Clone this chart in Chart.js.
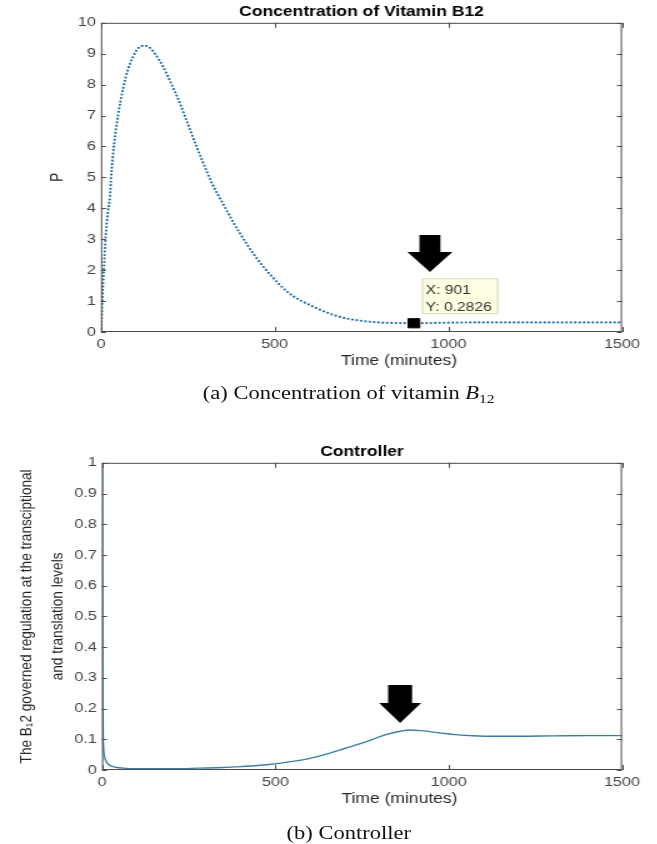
<!DOCTYPE html>
<html>
<head>
<meta charset="utf-8">
<script src="https://cdn.jsdelivr.net/npm/chart.js@4.4.1/dist/chart.umd.min.js"></script>
<style>
html, body { margin: 0; padding: 0; background: #fff; overflow: hidden; }
#page { position: absolute; left: 0; top: 0; width: 526px; height: 844px; transform: scaleX(1.25); transform-origin: 0 0; }
canvas { position: absolute; left: 0; }
#cvP { top: 0; }
#cvU { top: 440px; }
.caption { position: absolute; left: 0; width: 558px; text-align: center; font: 18px 'Liberation Serif', 'Times New Roman', serif; color: #111; line-height: 20px; }
.caption sub { font-size: 12.5px; vertical-align: -4px; line-height: 0; }
</style>
</head>
<body>
<div id="page">
  <canvas id="cvP" width="526" height="372"></canvas>
  <div class="caption" style="top:383px">(a) Concentration of vitamin <i>B</i><sub>12</sub></div>
  <canvas id="cvU" width="526" height="372"></canvas>
  <div class="caption" style="top:823px">(b) Controller</div>
</div>
<script>
// values
const timeP = [0, 2, 4, 8, 13, 20, 26, 29, 38, 49, 64, 78, 92, 105, 115, 125, 140, 155, 178, 201, 225, 251, 275, 293, 320, 351, 400, 446, 494, 541, 613, 684, 750, 800, 850, 901, 950, 1000, 1100, 1300, 1500];
const valueP = [0, 0.5, 1.1, 2.0, 3.0, 3.9, 4.4, 5.0, 6.1, 7.0, 7.9, 8.5, 8.9, 9.15, 9.24, 9.26, 9.2, 9.0, 8.6, 8.06, 7.46, 6.7, 6.0, 5.5, 4.8, 4.15, 3.19, 2.42, 1.77, 1.26, 0.81, 0.5, 0.36, 0.31, 0.29, 0.2826, 0.29, 0.30, 0.31, 0.31, 0.31];

const timeU = [0, 1, 2, 3, 5, 8, 12, 20, 35, 60, 100, 200, 282, 350, 400, 475, 550, 600, 657, 700, 752, 800, 821, 860, 888, 920, 974, 1020, 1060, 1100, 1200, 1300, 1400, 1500];
const valueU = [1, 0.55, 0.25, 0.12, 0.06, 0.04, 0.028, 0.017, 0.01, 0.006, 0.004, 0.004, 0.006, 0.008, 0.011, 0.017, 0.028, 0.038, 0.055, 0.07, 0.088, 0.108, 0.116, 0.126, 0.13, 0.128, 0.121, 0.115, 0.112, 0.11, 0.11, 0.111, 0.112, 0.112];

const dataTip = [901, 0.2826];
const arrowTipP = [947, 1.94];
const arrowTipU = [860, 0.153];

const xTicks = [0, 500, 1000, 1500];
const yTicksP = [0, 1, 2, 3, 4, 5, 6, 7, 8, 9, 10];
const yTicksU = [0, 0.1, 0.2, 0.3, 0.4, 0.5, 0.6, 0.7, 0.8, 0.9, 1];

const FONT = "'Liberation Sans', Arial, 'DejaVu Sans', sans-serif";
const TICK_COLOR = '#444';
const AXIS_COLOR = '#4a4a4a';

// frame box with inward ticks on all four sides
const matlabAxes = {
    id: 'matlabAxes',
    afterDraw(chart) {
        const {ctx, chartArea: a, scales} = chart;
        ctx.save();
        ctx.strokeStyle = AXIS_COLOR;
        ctx.lineWidth = 1;
        ctx.strokeRect(a.left + 0.5, a.top + 0.5, a.right - a.left - 1, a.bottom - a.top - 1);
        ctx.beginPath();
        scales.x.ticks.forEach(t => {
            const px = Math.round(scales.x.getPixelForValue(t.value)) + 0.5;
            ctx.moveTo(px, a.bottom); ctx.lineTo(px, a.bottom - 5);
            ctx.moveTo(px, a.top); ctx.lineTo(px, a.top + 5);
        });
        scales.y.ticks.forEach(t => {
            const py = Math.round(scales.y.getPixelForValue(t.value)) + 0.5;
            ctx.moveTo(a.left, py); ctx.lineTo(a.left + 4, py);
            ctx.moveTo(a.right, py); ctx.lineTo(a.right - 4, py);
        });
        ctx.stroke();

        // x label, sits a bit right of centre like the reference
        ctx.fillStyle = '#262626';
        ctx.font = '14px ' + FONT;
        ctx.textAlign = 'center';
        ctx.textBaseline = 'middle';
        ctx.fillText('Time (minutes)', (a.left + a.right) / 2 + 30, a.bottom + 29);
        ctx.restore();
    }
};

// big black arrow + MATLAB data tip
const marks = {
    id: 'marks',
    afterDatasetsDraw(chart, args, opts) {
        const {ctx, scales} = chart;
        ctx.save();
        if (opts.arrow) {
            const [ax, ay] = opts.arrow.tip;
            const tx = scales.x.getPixelForValue(ax);
            const ty = scales.y.getPixelForValue(ay);
            const {head, shaft, headH, shaftH} = opts.arrow;
            ctx.fillStyle = '#000';
            ctx.beginPath();
            ctx.moveTo(tx, ty);
            ctx.lineTo(tx - head, ty - headH);
            ctx.lineTo(tx - shaft, ty - headH);
            ctx.lineTo(tx - shaft, ty - headH - shaftH);
            ctx.lineTo(tx + shaft, ty - headH - shaftH);
            ctx.lineTo(tx + shaft, ty - headH);
            ctx.lineTo(tx + head, ty - headH);
            ctx.closePath();
            ctx.fill();
        }
        if (opts.tip) {
            const [vx, vy] = opts.tip;
            const px = scales.x.getPixelForValue(vx);
            const py = scales.y.getPixelForValue(vy);
            const left = px + 6.4, top = py - 45;
            ctx.fillStyle = '#ffffe3';
            ctx.strokeStyle = '#d6d6b8';
            ctx.lineWidth = 1;
            ctx.fillRect(left, top, 61, 36);
            ctx.strokeRect(left + 0.5, top + 0.5, 60, 35);
            ctx.fillStyle = '#333';
            ctx.font = '12.5px ' + FONT;
            ctx.textAlign = 'left';
            ctx.textBaseline = 'middle';
            ctx.fillText('X: ' + vx, left + 3, top + 12);
            ctx.fillText('Y: ' + vy, left + 3, top + 29);
        }
        ctx.restore();
    }
};

const plainLabel = v => String(Math.round(v * 10) / 10);

function xScale(height) {
    return {
        type: 'linear', min: 0, max: 1500,
        afterBuildTicks: s => { s.ticks = xTicks.map(v => ({value: v})); },
        afterFit: s => { s.height = height; },
        grid: {display: false, drawTicks: false},
        border: {display: false},
        ticks: {padding: 5, color: TICK_COLOR, font: {family: FONT, size: 13}, maxRotation: 0, autoSkip: false, callback: plainLabel}
    };
}

function yScale(max, tickList, width, title) {
    return {
        type: 'linear', min: 0, max: max,
        afterBuildTicks: s => { s.ticks = tickList.map(v => ({value: v})); },
        afterFit: s => { s.width = width; },
        grid: {display: false, drawTicks: false},
        border: {display: false},
        ticks: {padding: 4, color: TICK_COLOR, font: {family: FONT, size: 13}, autoSkip: false, callback: plainLabel},
        title: title
    };
}

function titleOpts(text) {
    return {
        display: true, fullSize: false, text: text, color: '#000',
        font: {family: FONT, size: 14, weight: 'bold'},
        padding: {top: 4, bottom: 2}
    };
}

new Chart(document.getElementById('cvP'), {
    type: 'line',
    data: {
        datasets: [
            {
                data: [{x: dataTip[0], y: dataTip[1]}],
                showLine: false, pointStyle: 'rect', pointRadius: 6.5,
                backgroundColor: '#000', borderColor: '#000', order: 1
            },
            {
                data: timeP.map((t, i) => ({x: t, y: valueP[i]})),
                borderColor: '#1a6fa3', borderWidth: 2.2,
                borderDash: [0, 3.5], borderCapStyle: 'round',
                cubicInterpolationMode: 'monotone',
                pointRadius: 0, fill: false, order: 2
            }
        ]
    },
    options: {
        responsive: false, animation: false, events: [],
        layout: {padding: {left: 0, right: 28.4, top: 0, bottom: 0}},
        plugins: {
            legend: {display: false},
            tooltip: {enabled: false},
            title: titleOpts('Concentration of Vitamin B12'),
            marks: {
                arrow: {tip: arrowTipP, head: 18, shaft: 8.4, headH: 20, shaftH: 17},
                tip: dataTip
            }
        },
        scales: {
            x: xScale(40),
            y: yScale(10, yTicksP, 80.8, {
                display: true, text: 'P', color: '#262626',
                font: {family: FONT, size: 14}, padding: {top: 38, bottom: 0}
            })
        }
    },
    plugins: [matlabAxes, marks]
});

new Chart(document.getElementById('cvU'), {
    type: 'line',
    data: {
        datasets: [{
            data: timeU.map((t, i) => ({x: t, y: valueU[i]})),
            borderColor: '#3a7fa6', borderWidth: 1.4,
            cubicInterpolationMode: 'monotone',
            pointRadius: 0, fill: false
        }]
    },
    options: {
        responsive: false, animation: false, events: [],
        layout: {padding: {left: 0, right: 28.4, top: 0, bottom: 0}},
        plugins: {
            legend: {display: false},
            tooltip: {enabled: false},
            title: titleOpts('Controller'),
            marks: {
                arrow: {tip: arrowTipU, head: 16.8, shaft: 9.6, headH: 20, shaftH: 18}
            }
        },
        scales: {
            x: xScale(42),
            y: yScale(1, yTicksU, 81.6, {
                display: true, color: '#262626',
                text: ['The B\u20812 governed regulation at the transciptional', 'and translation levels'],
                font: {family: FONT, size: 13.6, lineHeight: 1.85}, padding: {top: 9, bottom: 0}
            })
        }
    },
    plugins: [matlabAxes, marks]
});
</script>
</body>
</html>
